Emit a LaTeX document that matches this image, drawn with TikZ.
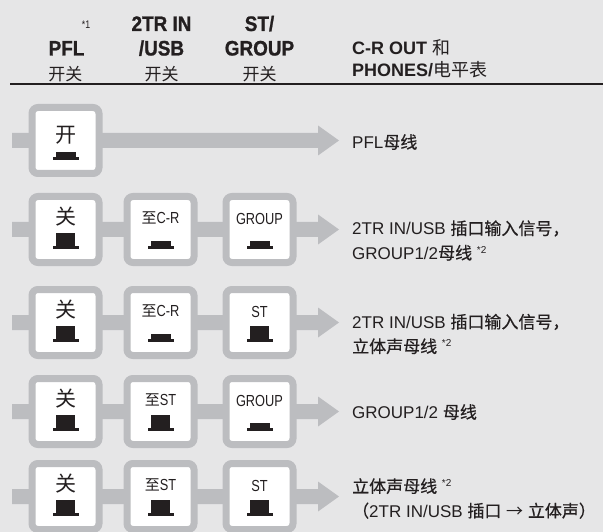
\documentclass[tikz,border=0pt]{standalone}
\usepackage{fontspec}
\usetikzlibrary{calc}
\setmainfont{Liberation Sans}
\newfontfamily\cjk{Noto Sans CJK SC}
\newfontfamily\cjkm{Noto Sans CJK SC}[FakeBold=0.5]
\newfontfamily\condb{Liberation Sans}[FakeStretch=0.9,FakeBold=1]
\newfontfamily\cond{Liberation Sans}[FakeStretch=0.8]
\definecolor{bg}{HTML}{E6E6E7}
\definecolor{gr}{HTML}{BCBDC0}
\definecolor{ink}{HTML}{231F20}
\newcommand\notemark[1]{\raisebox{6pt}{\fontsize{10}{10}\selectfont #1}}
\newcommand\btnup[1]{%
  \fill[ink] ($(#1)+(-13,16.5)$) rectangle ($(#1)+(13,19.5)$);
  \fill[ink] ($(#1)+(-9.5,3.5)$) rectangle ($(#1)+(9.5,16.5)$);}
\newcommand\btndn[1]{%
  \fill[ink] ($(#1)+(-13,16.5)$) rectangle ($(#1)+(13,19.5)$);
  \fill[ink] ($(#1)+(-10,11.5)$) rectangle ($(#1)+(10,16.5)$);}
\newcommand\busbar[2]{%
  \fill[gr] ($(#1)+(0,-7.5)$) -- ($(#2)+(-21,-7.5)$) -- ($(#2)+(-21,-15)$) -- (#2)
    -- ($(#2)+(-21,15)$) -- ($(#2)+(-21,7.5)$) -- ($(#1)+(0,7.5)$) -- cycle;}
\begin{document}
\begin{tikzpicture}[x=1pt,y=-1pt,
  swbox/.style={draw=gr, line width=7pt, fill=white, rounded corners=6pt,
    minimum width=67pt, minimum height=66pt, inner sep=0pt},
  hdr/.style={text=ink, inner sep=0pt, anchor=base, font=\condb\bfseries\fontsize{21}{21}\selectfont},
  hdrcn/.style={text=ink, inner sep=0pt, font=\cjk\fontsize{17}{17}\selectfont},
  outhdr/.style={text=ink, inner sep=0pt, anchor=base west, font=\bfseries\fontsize{18}{18}\selectfont},
  big/.style={text=ink, inner sep=0pt, font=\cjk\fontsize{21}{21}\selectfont},
  lab/.style={text=ink, inner sep=0pt, font=\cond\fontsize{16}{16}\selectfont},
  dest/.style={text=ink, inner sep=0pt, anchor=west, align=left, font=\fontsize{17}{24.5}\selectfont}
]
\useasboundingbox[fill=bg] (0,0) rectangle (603,532);

% header
\node[hdr] (hpfl) at (66.5,55.5) {PFL};
\node[text=ink, inner sep=0pt, font=\cond\fontsize{11}{11}\selectfont] (hn1) at (86,25) {*1};
\node[hdr] (h2a) at (161.5,31) {2TR IN};
\node[hdr] (h2b) at (161.5,55.5) {/USB};
\node[hdr] (h3a) at (259.5,31) {ST/};
\node[hdr] (h3b) at (259.5,55.5) {GROUP};
\node[hdrcn] (hk1) at (65.5,74) {开关};
\node[hdrcn] (hk2) at (161.5,74) {开关};
\node[hdrcn] (hk3) at (259.5,74) {开关};
\node[outhdr] (ho1) at (352,55) {C-R OUT {\cjk\mdseries 和}};
\node[outhdr] (ho2) at (352,77) {PHONES/{\cjk\mdseries 电平表}};
\coordinate (hl) at (10,84);
\coordinate (hr) at (603,84);
\draw[ink, line width=1.2pt] (hl) -- (hr);

% bus lines
\coordinate (s1) at (12,140.5); \coordinate (e1) at (339,140.5);
\coordinate (s2) at (12,229.5); \coordinate (e2) at (339,229.5);
\coordinate (s3) at (12,322.5); \coordinate (e3) at (339,322.5);
\coordinate (s4) at (12,411.5); \coordinate (e4) at (339,411.5);
\coordinate (s5) at (12,496.5); \coordinate (e5) at (339,496.5);
\busbar{s1}{e1}
\busbar{s2}{e2}
\busbar{s3}{e3}
\busbar{s4}{e4}
\busbar{s5}{e5}

% row 1
\node[swbox] (b11) at (65.5,140.5) {};
\node[big] (t11) at ($(b11)+(0,-5.5)$) {开};
\btndn{b11}
\node[dest] (d1) at (352,142) {PFL{\cjkm 母线}};

% row 2
\node[swbox] (b21) at (65.5,229.5) {};
\node[swbox] (b22) at (160.5,229.5) {};
\node[swbox] (b23) at (259.5,229.5) {};
\node[big] (t21) at ($(b21)+(0,-12.5)$) {关};
\node[lab] (t22) at ($(b22)+(0,-11.5)$) {{\cjk\fontsize{15}{15}\selectfont 至}C-R};
\node[lab] (t23) at ($(b23)+(0,-10.5)$) {GROUP};
\btnup{b21}
\btndn{b22}
\btndn{b23}
\node[dest] (d2) at (352,240.5) {2TR IN/USB {\cjkm 插口输入信号，}\\GROUP1/2{\cjkm 母线} \notemark{*2}};

% row 3
\node[swbox] (b31) at (65.5,322.5) {};
\node[swbox] (b32) at (160.5,322.5) {};
\node[swbox] (b33) at (259.5,322.5) {};
\node[big] (t31) at ($(b31)+(0,-12.5)$) {关};
\node[lab] (t32) at ($(b32)+(0,-11.5)$) {{\cjk\fontsize{15}{15}\selectfont 至}C-R};
\node[lab] (t33) at ($(b33)+(0,-10.5)$) {ST};
\btnup{b31}
\btndn{b32}
\btnup{b33}
\node[dest] (d3) at (352,334) {2TR IN/USB {\cjkm 插口输入信号，}\\{\cjkm 立体声母线} \notemark{*2}};

% row 4
\node[swbox] (b41) at (65.5,411.5) {};
\node[swbox] (b42) at (160.5,411.5) {};
\node[swbox] (b43) at (259.5,411.5) {};
\node[big] (t41) at ($(b41)+(0,-12.5)$) {关};
\node[lab] (t42) at ($(b42)+(0,-11.5)$) {{\cjk\fontsize{15}{15}\selectfont 至}ST};
\node[lab] (t43) at ($(b43)+(0,-10.5)$) {GROUP};
\btnup{b41}
\btnup{b42}
\btndn{b43}
\node[dest] (d4) at (352,412) {GROUP1/2 {\cjkm 母线}};

% row 5
\node[swbox] (b51) at (65.5,496.5) {};
\node[swbox] (b52) at (160.5,496.5) {};
\node[swbox] (b53) at (259.5,496.5) {};
\node[big] (t51) at ($(b51)+(0,-12.5)$) {关};
\node[lab] (t52) at ($(b52)+(0,-11.5)$) {{\cjk\fontsize{15}{15}\selectfont 至}ST};
\node[lab] (t53) at ($(b53)+(0,-10.5)$) {ST};
\btnup{b51}
\btnup{b52}
\btnup{b53}
\node[dest] (d5) at (352,498.5) {{\cjkm 立体声母线} \notemark{*2}\\{\cjkm （}2TR IN/USB {\cjkm 插口} {\cjk →} {\cjkm 立体声）}};
\end{tikzpicture}
\end{document}
